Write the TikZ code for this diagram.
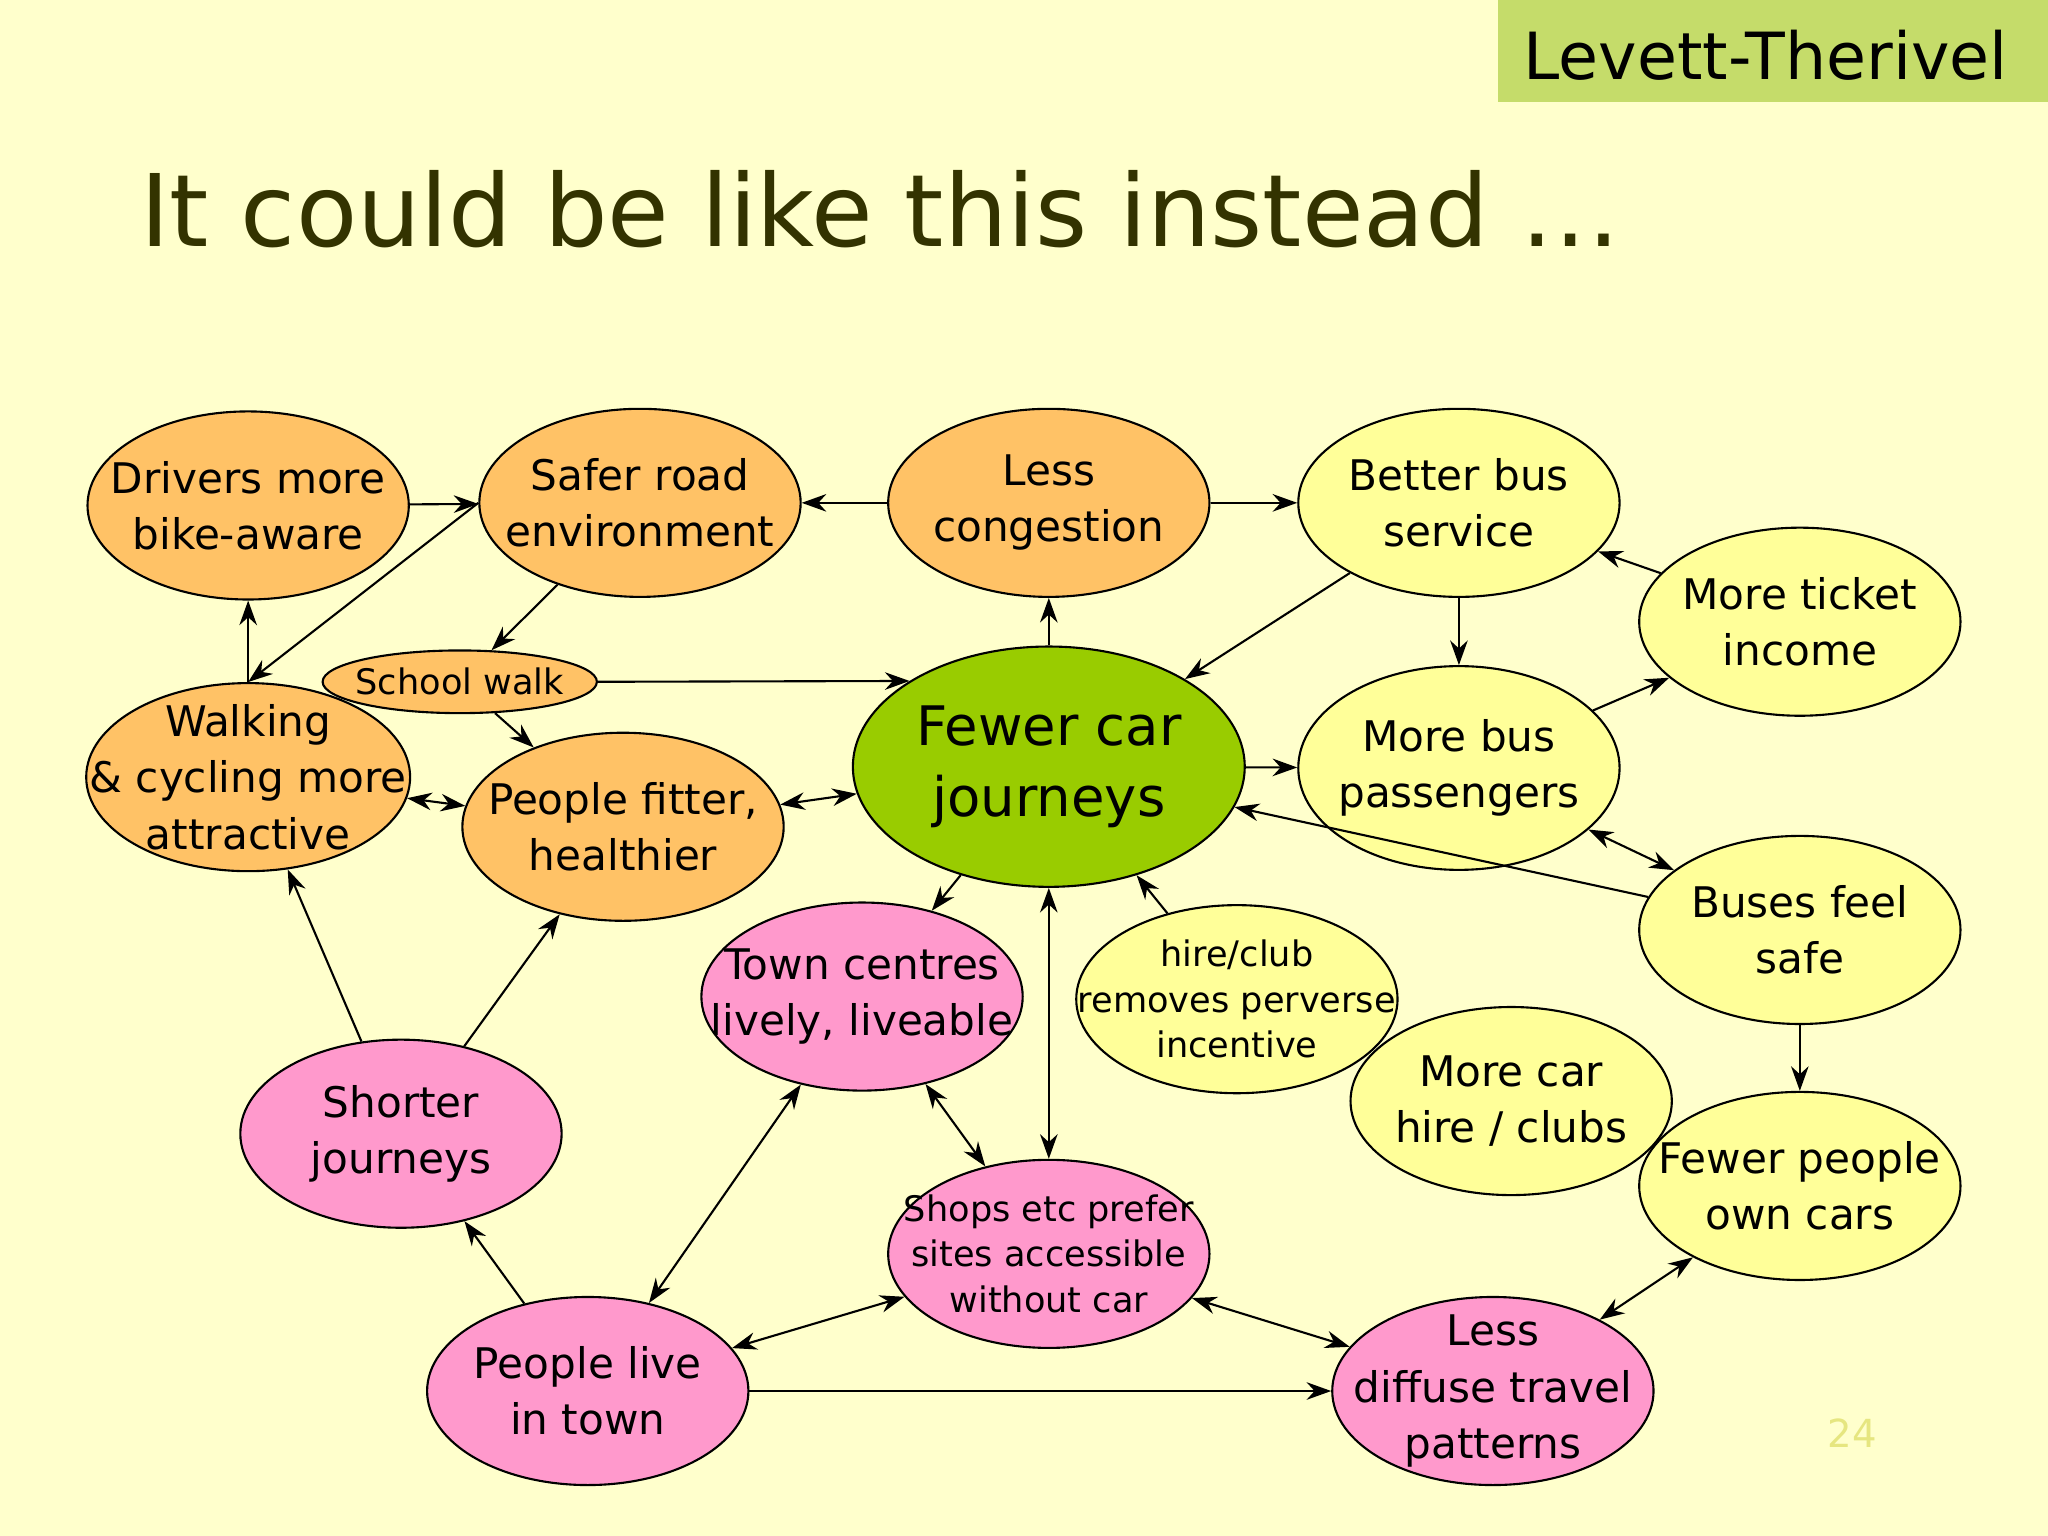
\documentclass[tikz,border=0pt]{standalone}
\usepackage{fontspec}
\setmainfont{DejaVu Sans}
\usetikzlibrary{shapes.geometric,arrows.meta}
\definecolor{bg}{HTML}{FFFFCC}
\definecolor{orng}{HTML}{FFC266}
\definecolor{pnk}{HTML}{FF99CC}
\definecolor{ylw}{HTML}{FFFF99}
\definecolor{grn}{HTML}{99CC00}
\definecolor{tbox}{HTML}{C5DC6A}
\definecolor{ttl}{HTML}{333300}
\definecolor{pgc}{HTML}{E6E680}
\begin{document}
\begin{tikzpicture}[x=0.01306cm,y=-0.01306cm,
 e/.style={ellipse,draw=black,line width=0.6pt,inner sep=-3cm,align=center,
   minimum width=246*0.01306cm,minimum height=144*0.01306cm,
   font=\fontsize{12}{16}\selectfont},
 o/.style={e,fill=orng}, p/.style={e,fill=pnk}, yl/.style={e,fill=ylw},
 small/.style={font=\fontsize{10}{13}\selectfont},
 a/.style={-{Stealth[length=7pt,width=5pt]},line width=0.6pt},
 aa/.style={{Stealth[length=7pt,width=5pt]}-{Stealth[length=7pt,width=5pt]},line width=0.6pt}]
\fill[bg] (0,0) rectangle (1568,1176);
\useasboundingbox (0,0) rectangle (1568,1176);
\fill[tbox] (1147,0) rectangle (1568,78);
\node[font=\fontsize{18.5}{22}\selectfont] (brand) at (1352,42) {Levett-Therivel};
\node[anchor=west,text=ttl,font=\fontsize{28.5}{32}\selectfont] (title) at (98,160) {It could be like this instead …};
\node[text=pgc,font=\rmfamily\fontsize{11}{12}\selectfont] (pg) at (1418,1097) {24};

\node[o] (drv) at (190,387) {Drivers more\\bike-aware};
\node[o] (saf) at (490,385) {Safer road\\environment};
\node[o] (les) at (803,385) {Less\\congestion};
\node[yl] (bbs) at (1117,385) {Better bus\\service};
\node[yl] (tic) at (1378,476) {More ticket\\income};
\node[o,minimum width=210*0.01306cm,minimum height=48*0.01306cm,small] (sch) at (352,522) {School walk};
\node[o,minimum width=248*0.01306cm] (wlk) at (190,595) {Walking\\\& cycling more\\attractive};
\node[o] (fit) at (477,633) {People fitter,\\healthier};
\node[e,fill=grn,minimum width=300*0.01306cm,minimum height=184*0.01306cm,font=\fontsize{15.5}{20}\selectfont] (car) at (803,587) {Fewer car\\journeys};
\node[yl,minimum height=156*0.01306cm] (pas) at (1117,588) {More bus\\passengers};
\node[yl] (bsf) at (1378,712) {Buses feel\\safe};
\node[p] (twn) at (660,763) {Town centres\\lively, liveable};
\node[yl,small] (hir) at (947,765) {hire/club\\removes perverse\\incentive};
\node[yl] (mch) at (1157,843) {More car\\hire / clubs};
\node[yl] (own) at (1378,908) {Fewer people\\own cars};
\node[p] (sht) at (307,868) {Shorter\\journeys};
\node[p,small] (shp) at (803,960) {Shops etc prefer\\sites accessible\\without car};
\node[p] (liv) at (450,1065) {People live\\in town};
\node[p] (dif) at (1143,1065) {Less\\diffuse travel\\patterns};

\draw[a] (drv) -- (saf);
\draw[a] (les) -- (saf);
\draw[a] (les) -- (bbs);
\draw[a] (wlk) -- (drv);
\draw[a] (saf.west) -- (wlk.north);
\draw[a] (saf) -- (sch);
\draw[a] (sch.east) -- (car.north west);
\draw[a] (sch) -- (fit);
\draw[aa] (wlk) -- (fit);
\draw[aa] (fit) -- (car);
\draw[a] (car) -- (les);
\draw[a] (bbs) -- (car);
\draw[a] (bbs) -- (pas);
\draw[a] (car) -- (pas);
\draw[a] (pas) -- (tic);
\draw[a] (tic) -- (bbs);
\draw[aa] (pas) -- (bsf);
\draw[a] (bsf) -- (car);
\draw[a] (hir) -- (car);
\draw[a] (bsf) -- (own);
\draw[a] (car) -- (twn);
\draw[aa] (car) -- (shp);
\draw[aa] (twn) -- (shp);
\draw[aa] (twn) -- (liv);
\draw[a] (sht) -- (wlk);
\draw[a] (sht) -- (fit);
\draw[a] (liv) -- (sht);
\draw[aa] (liv) -- (shp);
\draw[a] (liv) -- (dif);
\draw[aa] (shp) -- (dif);
\draw[aa] (dif) -- (own);
\end{tikzpicture}
\end{document}
